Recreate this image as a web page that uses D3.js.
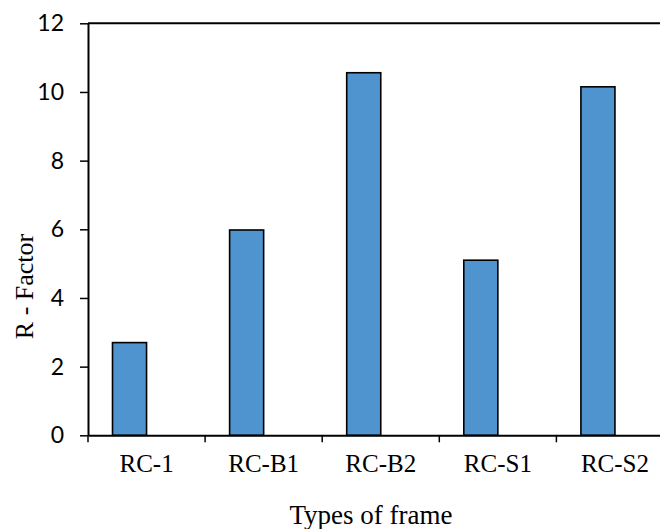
<!DOCTYPE html>
<html>
<head>
<meta charset="utf-8">
<script src="https://cdn.jsdelivr.net/npm/d3@7"></script>
<style>
  body { margin: 0; background: #fff; }
  svg { display: block; }
</style>
</head>
<body>
<div id="chart"></div>
<script>
var categories = ["RC-1", "RC-B1", "RC-B2", "RC-S1", "RC-S2"]
var rFactor = [2.70, 5.98, 10.56, 5.10, 10.15]
// the source chart reserves a second (empty) slot in each group
var slots = ["R - Factor", "empty"]
var yTicks = [0, 2, 4, 6, 8, 10, 12]

var width = 660, height = 529
var plotLeft = 88, plotRight = 673.5, plotTop = 23.3, plotBottom = 435.3

var svg = d3.select('#chart').append('svg')
  .attr('width', width).attr('height', height)

var x = d3.scaleBand().domain(categories).range([plotLeft, plotRight]).padding(0)
var x1 = d3.scaleBand().domain(slots).range([0, x.bandwidth()])
  .paddingInner(0).paddingOuter(0.72)
var y = d3.scaleLinear().domain([0, 12]).range([plotBottom, plotTop])

// bars
svg.append('g').selectAll('rect').data(rFactor)
  .enter().append('rect')
    .attr('x', (d, i) => x(categories[i]) + x1(slots[0]))
    .attr('width', x1.bandwidth())
    .attr('y', d => y(d))
    .attr('height', d => y(0) - y(d))
    .style('fill', '#4f94cf')
    .style('stroke', '#000')
    .style('stroke-width', 1.6)

// line at the top value
svg.append('line')
  .attr('x1', plotLeft).attr('x2', plotRight)
  .attr('y1', y(12)).attr('y2', y(12))
  .style('stroke', '#000').style('stroke-width', 2)

// y axis
var yAxis = svg.append('g')
  .attr('transform', `translate(${plotLeft},0)`)
  .call(d3.axisLeft(y).tickValues(yTicks).tickSize(8).tickPadding(16).tickSizeOuter(0))
yAxis.select('.domain').style('stroke-width', 2)
yAxis.selectAll('.tick line').style('stroke-width', 1.5)
yAxis.selectAll('text')
  .style('font-family', 'Lato, "Open Sans", sans-serif')
  .style('font-size', '23px')
  .style('fill', '#000')

// x axis, ticks on the band edges
var xAxis = svg.append('g')
  .attr('transform', `translate(0,${plotBottom})`)
  .call(d3.axisBottom(x).tickSize(0).tickPadding(19).tickSizeOuter(0))
xAxis.select('.domain').style('stroke-width', 2)
xAxis.selectAll('text')
  .style('font-family', '"Liberation Serif", "Times New Roman", serif')
  .style('font-size', '25px')
  .style('fill', '#000')
xAxis.selectAll('.edge').data(categories)
  .enter().append('line')
    .attr('class', 'edge')
    .attr('x1', d => x(d)).attr('x2', d => x(d))
    .attr('y1', 0).attr('y2', 7)
    .style('stroke', '#000').style('stroke-width', 1.5)

// axis titles
svg.append('text')
  .attr('x', 371).attr('y', 524)
  .attr('text-anchor', 'middle')
  .style('font-family', '"Liberation Serif", "Times New Roman", serif')
  .style('font-size', '27px')
  .text('Types of frame')

svg.append('text')
  .attr('transform', 'translate(33,286.5) rotate(-90)')
  .attr('text-anchor', 'middle')
  .style('font-family', '"Liberation Serif", "Times New Roman", serif')
  .style('font-size', '26px')
  .text('R - Factor')
</script>
</body>
</html>
